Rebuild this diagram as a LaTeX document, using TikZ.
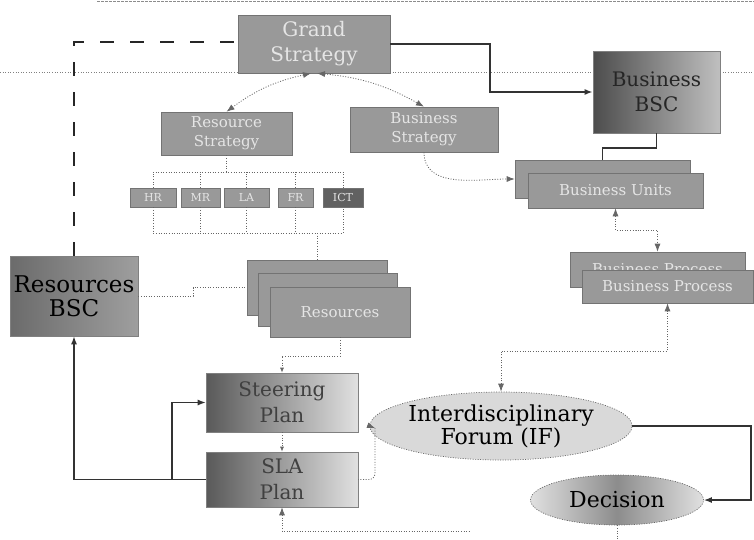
\documentclass[tikz,border=0pt]{standalone}
\usepackage{fontspec}
\setmainfont{DejaVu Serif}
\usetikzlibrary{arrows.meta,shapes.geometric}

\tikzset{
  x=1pt, y=-1pt,
  fs/.style 2 args={font=\fontsize{#1}{#2}\selectfont},
  graybox/.style={draw=black!55, line width=0.6pt, fill=black!40, text=black!10,
    inner sep=0pt, align=center},
  shadebox/.style={draw=black!50, line width=0.6pt, left color=black!65, right color=black!12,
    text=black!75, inner sep=0pt, align=center},
  ovalbox/.style={ellipse, draw=black!60, dash pattern=on 1pt off 1.5pt, line width=0.7pt,
    fill=black!15, text=black, inner sep=0pt, align=center},
  dotconn/.style={draw=black!60, line width=0.8pt, dash pattern=on 1pt off 1.6pt},
  boldconn/.style={draw=black!80, line width=1.6pt},
  dashconn/.style={draw=black!85, line width=2.4pt, dash pattern=on 14pt off 16pt},
  tip/.style={-{Latex[length=8pt,width=6pt]}},
  tips/.style={{Latex[length=8pt,width=6pt]}-{Latex[length=8pt,width=6pt]}},
  smalltip/.style={-{Latex[length=5pt,width=4pt]}},
}

\begin{document}
\begin{tikzpicture}
\useasboundingbox (0,0) rectangle (754,539);

% faint ruling lines
\draw[draw=black!45, line width=0.6pt, dash pattern=on 3pt off 1pt] (97,1) -- (754,1);
\draw[dotconn, draw=black!50] (0,72) -- (754,72);

% strategy level
\node[graybox, fs={20}{25}, minimum width=152pt, minimum height=58pt] (GS) at (314,44) {Grand\\Strategy};
\node[graybox, fs={15}{19}, minimum width=131pt, minimum height=43pt] (RS) at (226.5,133.5) {Resource\\Strategy};
\node[graybox, fs={15}{19}, minimum width=148pt, minimum height=45pt] (BS) at (424,129.5) {Business\\Strategy};
\node[shadebox, fs={20}{25}, text=black!85, left color=black!70, right color=black!25,
      minimum width=127pt, minimum height=82pt] (BBSC) at (656.5,92) {Business\\BSC};

% business units and processes (stacked)
\node[graybox, minimum width=175pt, minimum height=38pt] (BUb) at (602.5,179) {};
\node[graybox, fs={15}{18}, minimum width=175pt, minimum height=35pt] (BUf) at (615.5,190.5) {Business Units};
\node[graybox, fs={15}{18}, minimum width=175pt, minimum height=35pt] (BPb) at (657.5,269.5) {Business Process};
\node[graybox, fs={15}{18}, minimum width=171pt, minimum height=33pt] (BPf) at (667.5,286.5) {Business Process};

% resource domains
\node[graybox, fs={11}{13}, minimum width=46pt, minimum height=19pt] (HR) at (153,197.5) {HR};
\node[graybox, fs={11}{13}, minimum width=39pt, minimum height=19pt] (MR) at (200.5,197.5) {MR};
\node[graybox, fs={11}{13}, minimum width=45pt, minimum height=19pt] (LA) at (246.5,197.5) {LA};
\node[graybox, fs={11}{13}, minimum width=35pt, minimum height=19pt] (FR) at (295.5,197.5) {FR};
\node[graybox, fs={11}{13}, fill=black!62, minimum width=40pt, minimum height=19pt] (ICT) at (343,197.5) {ICT};

% resources (stacked)
\node[graybox, minimum width=140pt, minimum height=55pt] (Rb) at (317,287.5) {};
\node[graybox, minimum width=139pt, minimum height=53pt] (Rm) at (327.5,299.5) {};
\node[graybox, fs={15}{18}, minimum width=140pt, minimum height=50pt] (Rf) at (340,312) {Resources};

\node[shadebox, fs={23}{24}, text=black, left color=black!58, right color=black!38,
      minimum width=128pt, minimum height=80pt] (RBSC) at (74,296) {Resources\\BSC};

% plans
\node[shadebox, fs={20}{26}, minimum width=152pt, minimum height=59pt] (ST) at (282,402.5) {Steering\\Plan};
\node[shadebox, fs={20}{26}, minimum width=152pt, minimum height=55pt] (SLA) at (282,479.5) {SLA\\Plan};

% forum and decision
\node[ovalbox, fs={22}{23}, minimum width=216pt, minimum height=68pt] (IF) at (501,426) {Interdisciplinary\\Forum (IF)};
\node[ovalbox, fs={22}{24}, left color=black!12, right color=black!12, middle color=black!45,
      minimum width=173pt, minimum height=50pt] (DEC) at (617,500) {Decision};

% helper coordinates
\coordinate (gsk) at (490,60);
\coordinate (bk1) at (630,148);
\coordinate (bk2) at (636,230);
\coordinate (bk3) at (580,351);
\coordinate (bk4) at (751,460);
\coordinate (bk5) at (470,531);
\coordinate (bk6) at (310,356);
\coordinate (bk7) at (193,292);
\coordinate (tbar) at (0,172);
\coordinate (bbar) at (0,233);
\coordinate (ifl) at (375,428);
\coordinate (br) at (172,479.5);
\coordinate (dend) at (617,539);

% grand strategy links
\draw[dashconn] (RBSC.north) |- ([yshift=2pt]GS.west);
\draw[boldconn, tip] (GS.east) -| (gsk) |- (BBSC.west);
\draw[dotconn, tips] ([xshift=-3pt]GS.south) to[bend right=12] (RS.north);
\draw[dotconn, tips] ([xshift=3pt]GS.south) to[bend left=12] (BS.north);

% business side
\draw[dotconn, tip] (BS.south) to[out=-90, in=180] (BUb.west);
\draw[boldconn, line width=1.3pt] (BBSC.south) |- (bk1) -| (BUb.north);
\draw[dotconn, tips] (BUf.south) |- (bk2) -| (BPb.north);
\draw[dotconn, tips] (IF.north) |- (bk3) -| (BPf.south);
\draw[boldconn, line width=1.3pt, tip] (IF.east) -| (bk4) |- (DEC.east);
\draw[dotconn] (DEC.south) -- (dend);

% resource tree
\draw[dotconn] (RS.south) -- (RS.south |- tbar);
\draw[dotconn] (HR.north) -- (HR.north |- tbar) -- (ICT.north |- tbar) -- (ICT.north);
\draw[dotconn] (MR.north) -- (MR.north |- tbar);
\draw[dotconn] (LA.north) -- (LA.north |- tbar);
\draw[dotconn] (FR.north) -- (FR.north |- tbar);
\draw[dotconn] (HR.south) -- (HR.south |- bbar) -- (ICT.south |- bbar) -- (ICT.south);
\draw[dotconn] (MR.south) -- (MR.south |- bbar);
\draw[dotconn] (LA.south) -- (LA.south |- bbar);
\draw[dotconn] (FR.south) -- (FR.south |- bbar);
\draw[dotconn] (Rb.north |- bbar) -- (Rb.north);
\draw[dotconn] (RBSC.east) -| (bk7) |- (Rb.west);

% plans
\draw[dotconn, smalltip] (Rf.south) |- (bk6) -| (ST.north);
\draw[dotconn, smalltip] (ST.south) -- (SLA.north);
\draw[boldconn, line width=1.3pt, tip] (SLA.west) -| (RBSC.south);
\draw[boldconn, line width=1.3pt, tip] (br) |- (ST.west);
\draw[dotconn, tip] (IF.west) -- (ifl);
\draw[dotconn, rounded corners=6pt] (ifl) |- (SLA.east);
\draw[dotconn, {Latex[length=8pt,width=6pt]}-] (SLA.south) |- (bk5);
\end{tikzpicture}
\end{document}
